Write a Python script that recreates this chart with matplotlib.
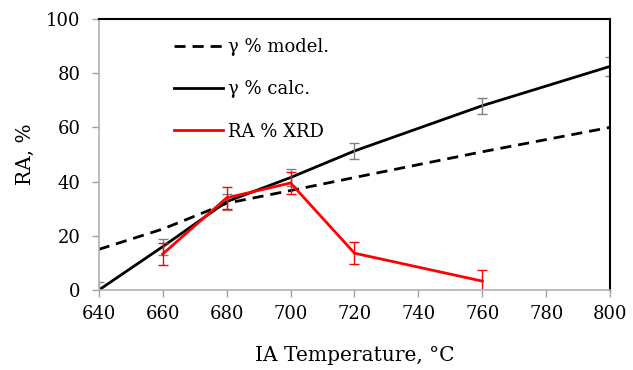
import numpy as np
import matplotlib.pyplot as plt

# data
temp = [640, 660, 680, 700, 720, 760, 800]
gamma_model = [15, 22.5, 32, 36.7, 41.5, 51, 60]
gamma_calc = [0, 16, 32.6, 41.5, 51.3, 68, 82.5]
gamma_calc_err = [3, 3, 3, 3, 3, 3, 3.5]

xrd_temp = [660, 680, 700, 720, 760]
xrd_ra = [13.3, 34, 39.5, 13.6, 3.3]
xrd_err = [4, 4, 4, 4, 4]

plt.rcParams['font.family'] = ['DejaVu Serif']

fig = plt.figure(figsize=(6.33, 3.70), dpi=100)
ax = fig.add_axes([0.156, 0.216, 0.808, 0.733])

ax.plot(temp, gamma_model, color='black', lw=2, ls=(0, (4, 2.5)), label='\u03b3 % model.')
ax.plot(temp, gamma_calc, color='black', lw=2, label='\u03b3 % calc.')
ax.errorbar(temp, gamma_calc, yerr=gamma_calc_err, fmt='none', ecolor='#808080',
            elinewidth=1, capsize=3.5, capthick=1)
ax.plot(xrd_temp, xrd_ra, color='#ff0000', lw=2, label='RA % XRD')
ax.errorbar(xrd_temp, xrd_ra, yerr=xrd_err, fmt='none', ecolor='#ff0000',
            elinewidth=1, capsize=3.5, capthick=1)

ax.set_xlim(640, 800)
ax.set_ylim(0, 100)
ax.set_xticks(np.arange(640, 801, 20))
ax.set_yticks(np.arange(0, 101, 20))
ax.tick_params(axis='both', labelsize=13, color='#a0a0a0', length=5, width=1)
ax.tick_params(axis='x', pad=6)
ax.tick_params(axis='y', pad=8)

for s in ['left', 'bottom']:
    ax.spines[s].set_color('#b0b0b0')
    ax.spines[s].set_linewidth(1.2)
for s in ['top', 'right']:
    ax.spines[s].set_color('black')
    ax.spines[s].set_linewidth(1.5)

ax.set_xlabel('IA Temperature, \u00b0C', fontsize=14.5, labelpad=16)
ax.set_ylabel('RA, %', fontsize=14.5, labelpad=8)

ax.legend(loc='upper left', bbox_to_anchor=(0.115, 0.99), frameon=False, fontsize=13,
          handlelength=2.7, handletextpad=0.3, labelspacing=1.35)

fig.savefig('out.png', dpi=100)
